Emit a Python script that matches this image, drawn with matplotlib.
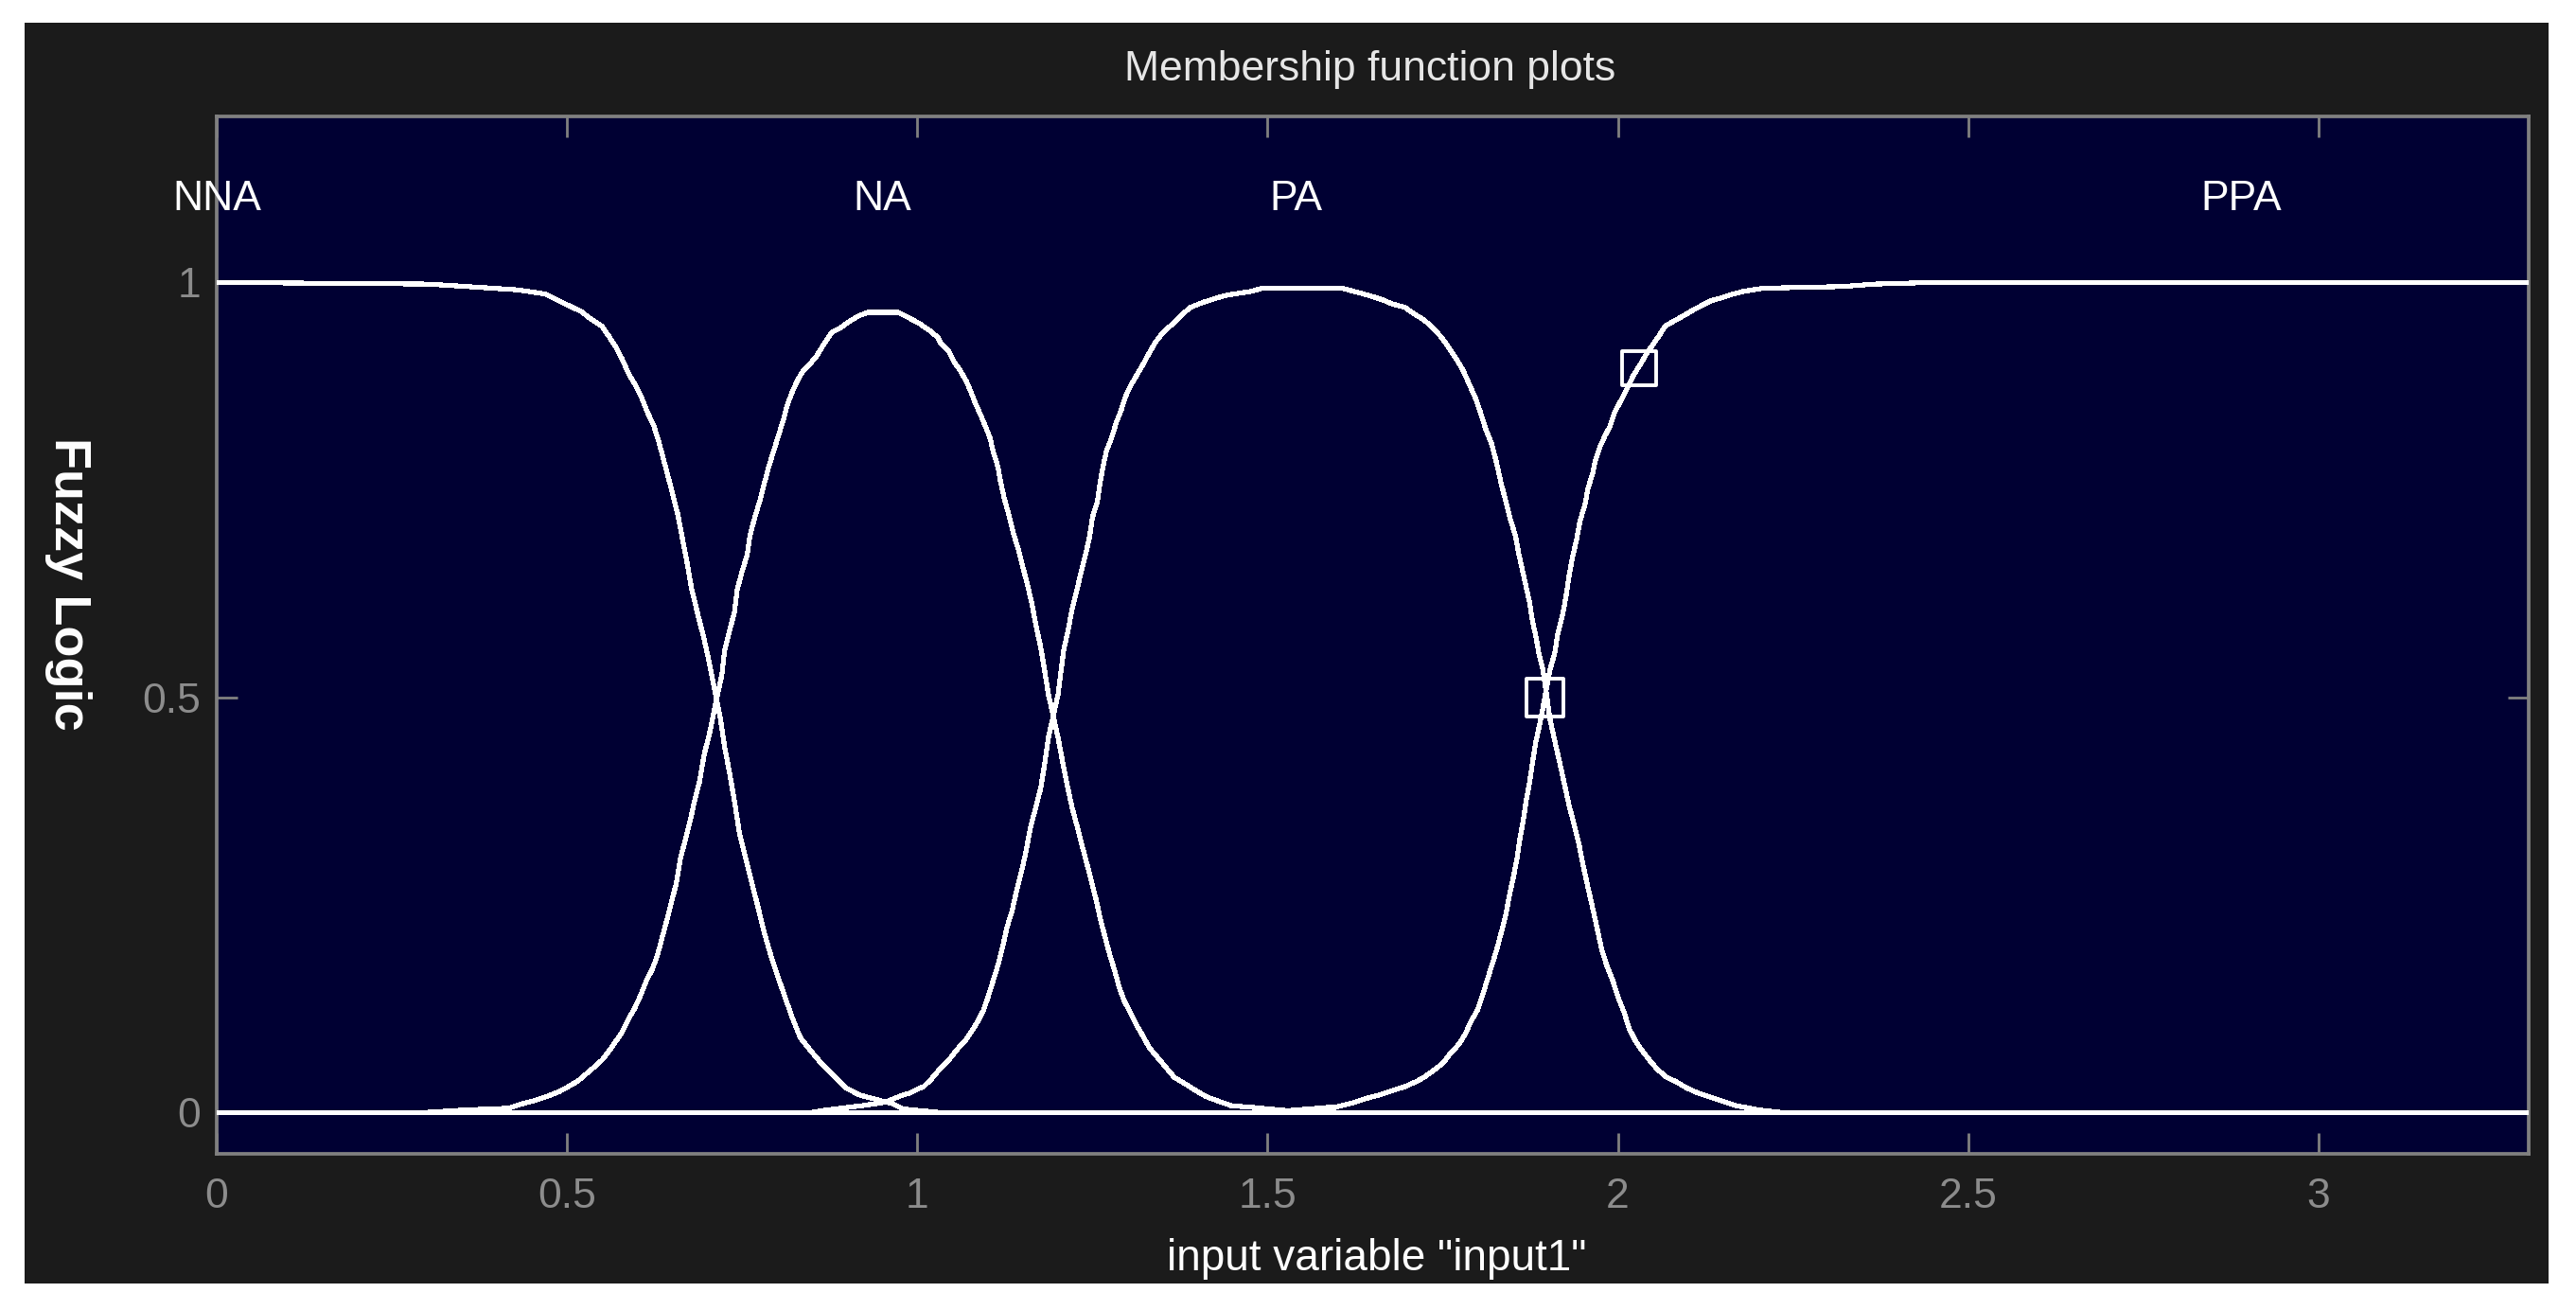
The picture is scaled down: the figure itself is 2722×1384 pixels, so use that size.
import matplotlib
matplotlib.use("Agg")
import matplotlib.pyplot as plt
from matplotlib.patches import Rectangle

plt.rcParams['font.family'] = ['Liberation Sans', 'DejaVu Sans']

# membership function names and where their labels sit
mf_names = ['NNA', 'NA', 'PA', 'PPA']
mf_label_x = [0.0, 0.95, 1.54, 2.89]

# curves
nna_x = [0.000, 0.300, 0.339, 0.430, 0.469, 0.493, 0.520, 0.534, 0.550, 0.559,
         0.570, 0.579, 0.588, 0.597, 0.606, 0.615, 0.624, 0.631, 0.638, 0.644,
         0.651, 0.658, 0.665, 0.671, 0.678, 0.687, 0.696, 0.703, 0.713, 0.719,
         0.725, 0.732, 0.739, 0.746, 0.755, 0.764, 0.773, 0.782, 0.791, 0.800,
         0.811, 0.822, 0.833, 0.847, 0.863, 0.881, 0.899, 0.917, 0.939, 0.966,
         0.980, 1.030, 3.300]
nna_y = [1.000, 0.998, 0.996, 0.991, 0.986, 0.976, 0.965, 0.956, 0.947, 0.936,
         0.922, 0.907, 0.890, 0.877, 0.862, 0.843, 0.827, 0.808, 0.786, 0.767,
         0.744, 0.721, 0.690, 0.664, 0.630, 0.599, 0.569, 0.542, 0.500, 0.474,
         0.440, 0.409, 0.375, 0.337, 0.306, 0.276, 0.246, 0.215, 0.189, 0.166,
         0.139, 0.113, 0.090, 0.075, 0.059, 0.044, 0.029, 0.021, 0.016, 0.010,
         0.004, 0.000, 0.000]

na_x = [0.000, 0.300, 0.358, 0.417, 0.435, 0.453, 0.471, 0.489, 0.502, 0.516,
        0.527, 0.538, 0.550, 0.561, 0.570, 0.579, 0.588, 0.597, 0.606, 0.613,
        0.622, 0.629, 0.635, 0.642, 0.649, 0.656, 0.662, 0.669, 0.676, 0.682,
        0.689, 0.696, 0.703, 0.714, 0.721, 0.725, 0.732, 0.739, 0.743, 0.750,
        0.757, 0.761, 0.768, 0.775, 0.782, 0.788, 0.795, 0.802, 0.809, 0.815,
        0.822, 0.829, 0.836, 0.845, 0.856, 0.867, 0.878, 0.890, 0.903, 0.917,
        0.930, 0.973, 0.984, 1.002, 1.016, 1.029, 1.034, 1.045, 1.052, 1.061,
        1.070, 1.077, 1.083, 1.090, 1.097, 1.104, 1.108, 1.115, 1.119, 1.124,
        1.131, 1.137, 1.144, 1.151, 1.158, 1.164, 1.169, 1.176, 1.182, 1.187,
        1.201, 1.207, 1.214, 1.221, 1.228, 1.234, 1.241, 1.248, 1.255, 1.261,
        1.268, 1.275, 1.282, 1.288, 1.295, 1.304, 1.313, 1.322, 1.331, 1.342,
        1.354, 1.367, 1.381, 1.396, 1.412, 1.428, 1.448, 1.478, 1.529, 1.600,
        3.300]
na_y = [0.000, 0.000, 0.003, 0.005, 0.010, 0.014, 0.019, 0.025, 0.031, 0.038,
        0.046, 0.054, 0.063, 0.075, 0.086, 0.097, 0.113, 0.126, 0.143, 0.158,
        0.173, 0.189, 0.208, 0.230, 0.253, 0.276, 0.306, 0.329, 0.352, 0.375,
        0.398, 0.432, 0.455, 0.500, 0.527, 0.557, 0.580, 0.603, 0.630, 0.652,
        0.671, 0.694, 0.717, 0.736, 0.759, 0.778, 0.797, 0.816, 0.835, 0.854,
        0.869, 0.882, 0.892, 0.900, 0.911, 0.926, 0.940, 0.945, 0.953, 0.960,
        0.964, 0.964, 0.959, 0.951, 0.943, 0.934, 0.926, 0.917, 0.905, 0.894,
        0.881, 0.867, 0.854, 0.841, 0.827, 0.812, 0.797, 0.778, 0.759, 0.740,
        0.719, 0.698, 0.679, 0.656, 0.633, 0.611, 0.588, 0.561, 0.531, 0.504,
        0.451, 0.424, 0.394, 0.367, 0.345, 0.325, 0.303, 0.280, 0.257, 0.234,
        0.211, 0.189, 0.170, 0.151, 0.135, 0.120, 0.105, 0.092, 0.078, 0.067,
        0.055, 0.042, 0.035, 0.027, 0.019, 0.014, 0.008, 0.006, 0.002, 0.000,
        0.000]

pa_x = [0.000, 0.850, 0.872, 0.921, 0.953, 0.980, 0.989, 0.998, 1.009, 1.020,
        1.032, 1.045, 1.056, 1.068, 1.077, 1.086, 1.095, 1.101, 1.108, 1.115,
        1.122, 1.128, 1.135, 1.142, 1.149, 1.155, 1.162, 1.169, 1.176, 1.182,
        1.187, 1.201, 1.205, 1.209, 1.216, 1.221, 1.228, 1.234, 1.241, 1.246,
        1.250, 1.257, 1.261, 1.266, 1.270, 1.277, 1.284, 1.291, 1.297, 1.304,
        1.313, 1.322, 1.331, 1.340, 1.349, 1.363, 1.376, 1.390, 1.408, 1.426,
        1.444, 1.475, 1.493, 1.606, 1.624, 1.646, 1.664, 1.678, 1.696, 1.709,
        1.723, 1.736, 1.748, 1.759, 1.770, 1.779, 1.788, 1.797, 1.804, 1.811,
        1.820, 1.827, 1.833, 1.840, 1.847, 1.854, 1.858, 1.863, 1.869, 1.874,
        1.878, 1.883, 1.887, 1.893, 1.896, 1.903, 1.910, 1.917, 1.923, 1.930,
        1.937, 1.944, 1.950, 1.957, 1.964, 1.971, 1.977, 1.984, 1.993, 2.000,
        2.009, 2.016, 2.025, 2.034, 2.045, 2.056, 2.070, 2.083, 2.099, 2.115,
        2.133, 2.151, 2.169, 2.200, 2.232, 3.300]
pa_y = [0.000, 0.000, 0.003, 0.008, 0.012, 0.021, 0.023, 0.027, 0.031, 0.040,
        0.052, 0.063, 0.075, 0.086, 0.097, 0.109, 0.124, 0.139, 0.158, 0.177,
        0.200, 0.223, 0.242, 0.268, 0.291, 0.314, 0.345, 0.367, 0.390, 0.421,
        0.451, 0.504, 0.531, 0.557, 0.584, 0.607, 0.630, 0.652, 0.675, 0.694,
        0.717, 0.736, 0.759, 0.782, 0.797, 0.812, 0.831, 0.846, 0.862, 0.875,
        0.888, 0.901, 0.915, 0.928, 0.938, 0.949, 0.960, 0.970, 0.976, 0.981,
        0.985, 0.989, 0.993, 0.993, 0.989, 0.984, 0.979, 0.974, 0.970, 0.962,
        0.955, 0.945, 0.934, 0.921, 0.907, 0.894, 0.877, 0.860, 0.843, 0.824,
        0.805, 0.782, 0.759, 0.736, 0.713, 0.694, 0.675, 0.656, 0.633, 0.614,
        0.592, 0.573, 0.554, 0.533, 0.516, 0.474, 0.447, 0.421, 0.398, 0.371,
        0.348, 0.325, 0.299, 0.272, 0.246, 0.219, 0.196, 0.177, 0.158, 0.139,
        0.120, 0.101, 0.086, 0.075, 0.063, 0.052, 0.042, 0.037, 0.029, 0.023,
        0.018, 0.013, 0.008, 0.003, 0.000, 0.000]

ppa_x = [0.000, 1.500, 1.601, 1.624, 1.642, 1.660, 1.678, 1.696, 1.712, 1.723,
         1.736, 1.750, 1.761, 1.773, 1.782, 1.790, 1.800, 1.806, 1.813, 1.820,
         1.827, 1.833, 1.840, 1.845, 1.851, 1.856, 1.860, 1.865, 1.869, 1.874,
         1.878, 1.883, 1.890, 1.903, 1.910, 1.914, 1.921, 1.926, 1.930, 1.935,
         1.941, 1.946, 1.953, 1.957, 1.964, 1.968, 1.975, 1.982, 1.989, 1.995,
         2.002, 2.009, 2.016, 2.022, 2.032, 2.040, 2.049, 2.059, 2.067, 2.079,
         2.092, 2.106, 2.119, 2.133, 2.146, 2.160, 2.178, 2.207, 2.320, 2.367,
         2.450, 3.300]
ppa_y = [0.000, 0.000, 0.007, 0.012, 0.017, 0.021, 0.026, 0.031, 0.037, 0.042,
         0.050, 0.059, 0.071, 0.082, 0.094, 0.109, 0.124, 0.139, 0.158, 0.177,
         0.196, 0.215, 0.238, 0.261, 0.284, 0.306, 0.329, 0.352, 0.375, 0.398,
         0.421, 0.447, 0.474, 0.533, 0.554, 0.576, 0.599, 0.622, 0.645, 0.668,
         0.690, 0.713, 0.732, 0.751, 0.770, 0.786, 0.803, 0.816, 0.827, 0.843,
         0.854, 0.865, 0.877, 0.888, 0.901, 0.913, 0.924, 0.936, 0.947, 0.953,
         0.959, 0.966, 0.972, 0.978, 0.981, 0.985, 0.989, 0.993, 0.995, 0.998,
         1.000, 1.000]

# the square markers on the curves
marker_x = [1.896, 2.030]
marker_y = [0.500, 0.897]

x_ticks = [0, 0.5, 1, 1.5, 2, 2.5, 3]
x_tick_labels = ['0', '0.5', '1', '1.5', '2', '2.5', '3']
y_ticks = [0, 0.5, 1]
y_tick_labels = ['0', '0.5', '1']

W, H = 2722, 1384
fig = plt.figure(figsize=(W / 100, H / 100), dpi=100, facecolor='white')
fig.patches.append(Rectangle((26 / W, 1 - 1356 / H), (2693 - 26) / W, (1356 - 24) / H,
                             transform=fig.transFigure, facecolor='#1b1b1b',
                             edgecolor='none', zorder=-10))

ax = fig.add_axes([229 / W, 1 - 1219 / H, (2672 - 229) / W, (1219 - 123) / H])
ax.set_facecolor('#000033')

for xs, ys in [(nna_x, nna_y), (na_x, na_y), (pa_x, pa_y), (ppa_x, ppa_y)]:
    ax.plot(xs, ys, color='white', lw=3, antialiased=False, zorder=3)

ax.scatter(marker_x, marker_y, s=[28.5 ** 2, 26 ** 2], marker='s', facecolors='none',
           edgecolors='white', linewidths=2.8, zorder=4)

for name, xpos in zip(mf_names, mf_label_x):
    ax.text(xpos, 1.1, name, ha='center', va='center', color='white',
            fontsize=32, clip_on=False)

ax.set_xlim(0, 3.3)
ax.set_ylim(-0.05, 1.2)
ax.set_xticks(x_ticks)
ax.set_xticklabels(x_tick_labels)
ax.set_yticks(y_ticks)
ax.set_yticklabels(y_tick_labels)
ax.tick_params(direction='in', length=16, width=2, color='#808080', labelcolor='#8c8c8c',
               labelsize=32, top=True, right=True)
ax.tick_params(axis='x', pad=18)
ax.tick_params(axis='y', pad=12)
for sp in ax.spines.values():
    sp.set_color('#808080')
    sp.set_linewidth(2.7)

fig.text(1448 / W, 1 - 73 / H, 'Membership function plots', ha='center', va='center',
         color='#e6e6e6', fontsize=32)
fig.text(1455 / W, 1 - 1330 / H, 'input variable "input1"', ha='center', va='center',
         color='white', fontsize=33)
fig.text(72 / W, 1 - 617 / H, 'Fuzzy Logic', ha='center', va='center', rotation=270,
         color='white', fontsize=39, fontweight='bold')

fig.savefig('out.png', dpi=100, facecolor=fig.get_facecolor())
